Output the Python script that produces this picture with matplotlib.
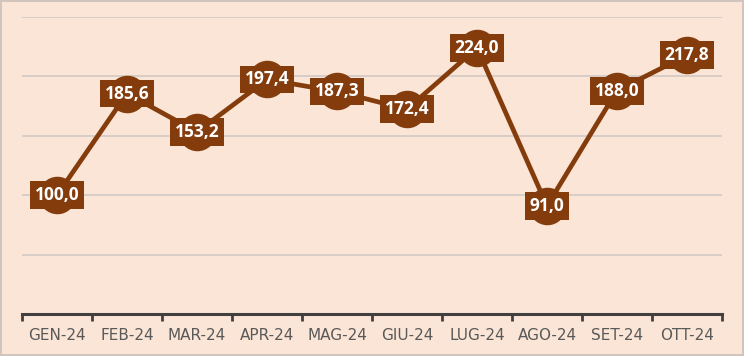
import matplotlib.pyplot as plt
import numpy as np

months = ['GEN-24', 'FEB-24', 'MAR-24', 'APR-24', 'MAG-24', 'GIU-24', 'LUG-24', 'AGO-24', 'SET-24', 'OTT-24']
values = [100.0, 185.6, 153.2, 197.4, 187.3, 172.4, 224.0, 91.0, 188.0, 217.8]

bg = '#FBE5D6'
brown = '#843C0C'

fig = plt.figure(figsize=(7.44, 3.56), dpi=100, facecolor=bg,
                 edgecolor='#D0C4BC', linewidth=1.5)
ax = fig.add_axes([22/744, 1-314/356, 700/744, 297/356])
ax.set_facecolor(bg)

x = np.arange(len(months))
ax.plot(x, values, color=brown, linewidth=3.4, marker='o', markersize=26,
        markerfacecolor=brown, markeredgecolor=brown, zorder=3)

for xi, v in zip(x, values):
    lbl = ('%.1f' % v).replace('.', ',')
    ax.text(xi, v, lbl, ha='center', va='center', color='white', fontsize=12.5,
            fontweight='bold', family='Open Sans', zorder=4,
            bbox=dict(boxstyle='square,pad=0.28', facecolor=brown, edgecolor='none'))

ax.set_xlim(-0.5, len(months) - 0.5)
ax.set_ylim(0, 250)
ax.set_yticks([50, 100, 150, 200, 250])
ax.yaxis.grid(True, color='#D5CCC6', linewidth=1.3)
ax.set_axisbelow(True)
ax.tick_params(axis='y', left=False, labelleft=False)

ax.set_xticks(x)
ax.set_xticklabels(months, color='#595959', fontsize=11)
ax.set_xticks(np.arange(-0.5, len(months)), minor=True)
ax.tick_params(axis='x', which='major', length=0, pad=10)
ax.tick_params(axis='x', which='minor', length=5, width=2, color='#404040', direction='out')

for s in ['top', 'right', 'left']:
    ax.spines[s].set_visible(False)
ax.spines['bottom'].set_color('#404040')
ax.spines['bottom'].set_linewidth(2.2)

fig.savefig('out.png', dpi=100, facecolor=bg, edgecolor=fig.get_edgecolor())
